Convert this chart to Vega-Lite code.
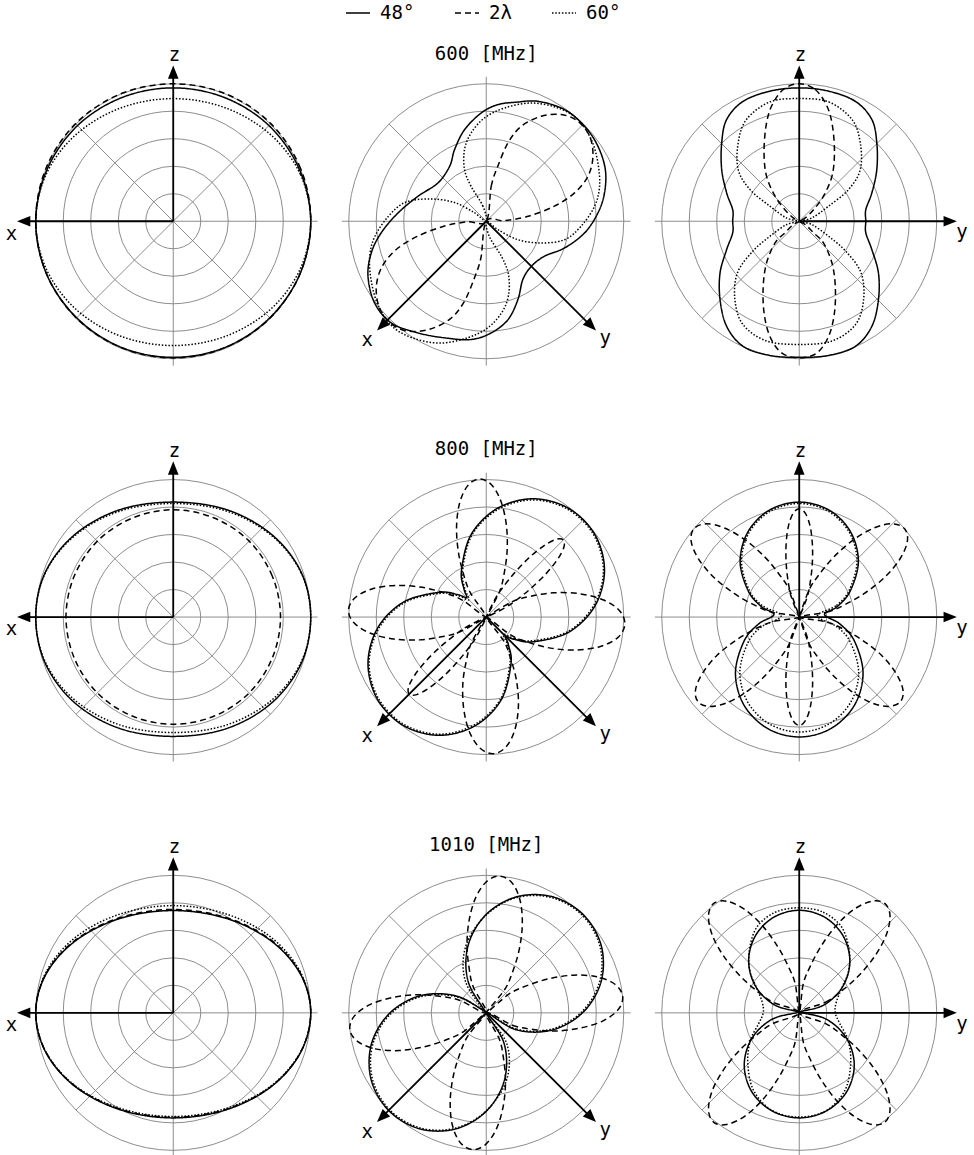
{
"$schema": "https://vega.github.io/schema/vega-lite/v6.json",
"padding": {"left": 5, "top": 0, "right": 5, "bottom": 5},
"bounds": "flush",
"data": {"values": [
{"p":1,"k":"ring","x":0,"y":0,"r":1},{"p":1,"k":"ring","x":0,"y":0,"r":2},{"p":1,"k":"ring","x":0,"y":0,"r":3},{"p":1,"k":"ring","x":0,"y":0,"r":4},{"p":1,"k":"ring","x":0,"y":0,"r":5},
{"p":2,"k":"ring","x":0,"y":0,"r":1},{"p":2,"k":"ring","x":0,"y":0,"r":2},{"p":2,"k":"ring","x":0,"y":0,"r":3},{"p":2,"k":"ring","x":0,"y":0,"r":4},{"p":2,"k":"ring","x":0,"y":0,"r":5},
{"p":3,"k":"ring","x":0,"y":0,"r":1},{"p":3,"k":"ring","x":0,"y":0,"r":2},{"p":3,"k":"ring","x":0,"y":0,"r":3},{"p":3,"k":"ring","x":0,"y":0,"r":4},{"p":3,"k":"ring","x":0,"y":0,"r":5},
{"p":4,"k":"ring","x":0,"y":0,"r":1},{"p":4,"k":"ring","x":0,"y":0,"r":2},{"p":4,"k":"ring","x":0,"y":0,"r":3},{"p":4,"k":"ring","x":0,"y":0,"r":4},{"p":4,"k":"ring","x":0,"y":0,"r":5},
{"p":5,"k":"ring","x":0,"y":0,"r":1},{"p":5,"k":"ring","x":0,"y":0,"r":2},{"p":5,"k":"ring","x":0,"y":0,"r":3},{"p":5,"k":"ring","x":0,"y":0,"r":4},{"p":5,"k":"ring","x":0,"y":0,"r":5},
{"p":6,"k":"ring","x":0,"y":0,"r":1},{"p":6,"k":"ring","x":0,"y":0,"r":2},{"p":6,"k":"ring","x":0,"y":0,"r":3},{"p":6,"k":"ring","x":0,"y":0,"r":4},{"p":6,"k":"ring","x":0,"y":0,"r":5},
{"p":7,"k":"ring","x":0,"y":0,"r":1},{"p":7,"k":"ring","x":0,"y":0,"r":2},{"p":7,"k":"ring","x":0,"y":0,"r":3},{"p":7,"k":"ring","x":0,"y":0,"r":4},{"p":7,"k":"ring","x":0,"y":0,"r":5},
{"p":8,"k":"ring","x":0,"y":0,"r":1},{"p":8,"k":"ring","x":0,"y":0,"r":2},{"p":8,"k":"ring","x":0,"y":0,"r":3},{"p":8,"k":"ring","x":0,"y":0,"r":4},{"p":8,"k":"ring","x":0,"y":0,"r":5},
{"p":9,"k":"ring","x":0,"y":0,"r":1},{"p":9,"k":"ring","x":0,"y":0,"r":2},{"p":9,"k":"ring","x":0,"y":0,"r":3},{"p":9,"k":"ring","x":0,"y":0,"r":4},{"p":9,"k":"ring","x":0,"y":0,"r":5},
{"p":1,"k":"grid","x":-5.25,"y":0,"x2":5.25,"y2":0},{"p":1,"k":"grid","x":0,"y":-5.25,"x2":0,"y2":5.25},{"p":1,"k":"grid","x":-3.536,"y":-3.536,"x2":3.536,"y2":3.536},{"p":1,"k":"grid","x":-3.536,"y":3.536,"x2":3.536,"y2":-3.536},
{"p":2,"k":"grid","x":-5.25,"y":0,"x2":5.25,"y2":0},{"p":2,"k":"grid","x":0,"y":-5.25,"x2":0,"y2":5.25},{"p":2,"k":"grid","x":-3.536,"y":-3.536,"x2":3.536,"y2":3.536},{"p":2,"k":"grid","x":-3.536,"y":3.536,"x2":3.536,"y2":-3.536},
{"p":3,"k":"grid","x":-5.25,"y":0,"x2":5.25,"y2":0},{"p":3,"k":"grid","x":0,"y":-5.25,"x2":0,"y2":5.25},{"p":3,"k":"grid","x":-3.536,"y":-3.536,"x2":3.536,"y2":3.536},{"p":3,"k":"grid","x":-3.536,"y":3.536,"x2":3.536,"y2":-3.536},
{"p":4,"k":"grid","x":-5.25,"y":0,"x2":5.25,"y2":0},{"p":4,"k":"grid","x":0,"y":-5.25,"x2":0,"y2":5.25},{"p":4,"k":"grid","x":-3.536,"y":-3.536,"x2":3.536,"y2":3.536},{"p":4,"k":"grid","x":-3.536,"y":3.536,"x2":3.536,"y2":-3.536},
{"p":5,"k":"grid","x":-5.25,"y":0,"x2":5.25,"y2":0},{"p":5,"k":"grid","x":0,"y":-5.25,"x2":0,"y2":5.25},{"p":5,"k":"grid","x":-3.536,"y":-3.536,"x2":3.536,"y2":3.536},{"p":5,"k":"grid","x":-3.536,"y":3.536,"x2":3.536,"y2":-3.536},
{"p":6,"k":"grid","x":-5.25,"y":0,"x2":5.25,"y2":0},{"p":6,"k":"grid","x":0,"y":-5.25,"x2":0,"y2":5.25},{"p":6,"k":"grid","x":-3.536,"y":-3.536,"x2":3.536,"y2":3.536},{"p":6,"k":"grid","x":-3.536,"y":3.536,"x2":3.536,"y2":-3.536},
{"p":7,"k":"grid","x":-5.25,"y":0,"x2":5.25,"y2":0},{"p":7,"k":"grid","x":0,"y":-5.25,"x2":0,"y2":5.25},{"p":7,"k":"grid","x":-3.536,"y":-3.536,"x2":3.536,"y2":3.536},{"p":7,"k":"grid","x":-3.536,"y":3.536,"x2":3.536,"y2":-3.536},
{"p":8,"k":"grid","x":-5.25,"y":0,"x2":5.25,"y2":0},{"p":8,"k":"grid","x":0,"y":-5.25,"x2":0,"y2":5.25},{"p":8,"k":"grid","x":-3.536,"y":-3.536,"x2":3.536,"y2":3.536},{"p":8,"k":"grid","x":-3.536,"y":3.536,"x2":3.536,"y2":-3.536},
{"p":9,"k":"grid","x":-5.25,"y":0,"x2":5.25,"y2":0},{"p":9,"k":"grid","x":0,"y":-5.25,"x2":0,"y2":5.25},{"p":9,"k":"grid","x":-3.536,"y":-3.536,"x2":3.536,"y2":3.536},{"p":9,"k":"grid","x":-3.536,"y":3.536,"x2":3.536,"y2":-3.536},
{"p":1,"k":"axis","x":0,"y":0,"x2":-5.35,"y2":0},{"p":1,"k":"axis","x":0,"y":0,"x2":0,"y2":5.35},
{"p":4,"k":"axis","x":0,"y":0,"x2":-5.35,"y2":0},{"p":4,"k":"axis","x":0,"y":0,"x2":0,"y2":5.35},
{"p":7,"k":"axis","x":0,"y":0,"x2":-5.35,"y2":0},{"p":7,"k":"axis","x":0,"y":0,"x2":0,"y2":5.35},
{"p":2,"k":"axis","x":0,"y":0,"x2":-3.75,"y2":-3.75},{"p":2,"k":"axis","x":0,"y":0,"x2":3.75,"y2":-3.75},
{"p":5,"k":"axis","x":0,"y":0,"x2":-3.75,"y2":-3.75},{"p":5,"k":"axis","x":0,"y":0,"x2":3.75,"y2":-3.75},
{"p":8,"k":"axis","x":0,"y":0,"x2":-3.75,"y2":-3.75},{"p":8,"k":"axis","x":0,"y":0,"x2":3.75,"y2":-3.75},
{"p":3,"k":"axis","x":0,"y":0,"x2":0,"y2":5.35},{"p":3,"k":"axis","x":0,"y":0,"x2":5.4,"y2":0},
{"p":6,"k":"axis","x":0,"y":0,"x2":0,"y2":5.35},{"p":6,"k":"axis","x":0,"y":0,"x2":5.4,"y2":0},
{"p":9,"k":"axis","x":0,"y":0,"x2":0,"y2":5.35},{"p":9,"k":"axis","x":0,"y":0,"x2":5.4,"y2":0},
{"p":1,"k":"arrow","x":-5.44,"y":0,"dir":180},{"p":1,"k":"arrow","x":0,"y":5.42,"dir":90},
{"p":4,"k":"arrow","x":-5.44,"y":0,"dir":180},{"p":4,"k":"arrow","x":0,"y":5.42,"dir":90},
{"p":7,"k":"arrow","x":-5.44,"y":0,"dir":180},{"p":7,"k":"arrow","x":0,"y":5.42,"dir":90},
{"p":2,"k":"arrow","x":-3.8,"y":-3.8,"dir":225},{"p":2,"k":"arrow","x":3.82,"y":-3.8,"dir":315},
{"p":5,"k":"arrow","x":-3.8,"y":-3.8,"dir":225},{"p":5,"k":"arrow","x":3.82,"y":-3.8,"dir":315},
{"p":8,"k":"arrow","x":-3.8,"y":-3.8,"dir":225},{"p":8,"k":"arrow","x":3.82,"y":-3.8,"dir":315},
{"p":3,"k":"arrow","x":0,"y":5.42,"dir":90},{"p":3,"k":"arrow","x":5.49,"y":0,"dir":0},
{"p":6,"k":"arrow","x":0,"y":5.42,"dir":90},{"p":6,"k":"arrow","x":5.49,"y":0,"dir":0},
{"p":9,"k":"arrow","x":0,"y":5.42,"dir":90},{"p":9,"k":"arrow","x":5.49,"y":0,"dir":0},
{"p":1,"k":"label","x":-5.88,"y":-0.45,"t":"x"},{"p":1,"k":"label","x":0.04,"y":6.04,"t":"z"},
{"p":4,"k":"label","x":-5.88,"y":-0.45,"t":"x"},{"p":4,"k":"label","x":0.04,"y":6.04,"t":"z"},
{"p":7,"k":"label","x":-5.88,"y":-0.45,"t":"x"},{"p":7,"k":"label","x":0.04,"y":6.04,"t":"z"},
{"p":2,"k":"label","x":-4.33,"y":-4.33,"t":"x"},{"p":2,"k":"label","x":4.33,"y":-4.25,"t":"y"},{"p":2,"k":"label","x":0,"y":6.1,"t":"600 [MHz]"},
{"p":5,"k":"label","x":-4.33,"y":-4.33,"t":"x"},{"p":5,"k":"label","x":4.33,"y":-4.25,"t":"y"},{"p":5,"k":"label","x":0,"y":6.1,"t":"800 [MHz]"},
{"p":8,"k":"label","x":-4.33,"y":-4.33,"t":"x"},{"p":8,"k":"label","x":4.33,"y":-4.25,"t":"y"},{"p":8,"k":"label","x":0,"y":6.1,"t":"1010 [MHz]"},
{"p":3,"k":"label","x":0.04,"y":6.04,"t":"z"},{"p":3,"k":"label","x":5.92,"y":-0.4,"t":"y"},
{"p":6,"k":"label","x":0.04,"y":6.04,"t":"z"},{"p":6,"k":"label","x":5.92,"y":-0.4,"t":"y"},
{"p":9,"k":"label","x":0.04,"y":6.04,"t":"z"},{"p":9,"k":"label","x":5.92,"y":-0.4,"t":"y"},

{"p":1,"s":"48°","x":5,"y":0},{"p":1,"s":"48°","x":4.58,"y":1.9},{"p":1,"s":"48°","x":3.48,"y":3.48},{"p":1,"s":"48°","x":1.86,"y":4.5},{"p":1,"s":"48°","x":0,"y":4.85},{"p":1,"s":"48°","x":-1.86,"y":4.5},{"p":1,"s":"48°","x":-3.48,"y":3.48},{"p":1,"s":"48°","x":-4.58,"y":1.9},{"p":1,"s":"48°","x":-5,"y":0},{"p":1,"s":"48°","x":-4.61,"y":-1.91},{"p":1,"s":"48°","x":-3.51,"y":-3.51},{"p":1,"s":"48°","x":-1.9,"y":-4.58},{"p":1,"s":"48°","x":0,"y":-4.95},{"p":1,"s":"48°","x":1.9,"y":-4.58},{"p":1,"s":"48°","x":3.51,"y":-3.51},{"p":1,"s":"48°","x":4.61,"y":-1.91},
{"p":1,"s":"2λ","x":5,"y":0},{"p":1,"s":"2λ","x":4.63,"y":1.92},{"p":1,"s":"2λ","x":3.55,"y":3.55},{"p":1,"s":"2λ","x":1.92,"y":4.63},{"p":1,"s":"2λ","x":0,"y":5},{"p":1,"s":"2λ","x":-1.92,"y":4.63},{"p":1,"s":"2λ","x":-3.55,"y":3.55},{"p":1,"s":"2λ","x":-4.63,"y":1.92},{"p":1,"s":"2λ","x":-5,"y":0},{"p":1,"s":"2λ","x":-4.61,"y":-1.91},{"p":1,"s":"2λ","x":-3.52,"y":-3.52},{"p":1,"s":"2λ","x":-1.9,"y":-4.59},{"p":1,"s":"2λ","x":0,"y":-4.97},{"p":1,"s":"2λ","x":1.9,"y":-4.59},{"p":1,"s":"2λ","x":3.52,"y":-3.52},{"p":1,"s":"2λ","x":4.61,"y":-1.91},
{"p":1,"s":"60°","x":5,"y":0},{"p":1,"s":"60°","x":4.62,"y":1.71},{"p":1,"s":"60°","x":3.54,"y":3.15},{"p":1,"s":"60°","x":1.91,"y":4.12},{"p":1,"s":"60°","x":0,"y":4.46},{"p":1,"s":"60°","x":-1.91,"y":4.12},{"p":1,"s":"60°","x":-3.54,"y":3.15},{"p":1,"s":"60°","x":-4.62,"y":1.71},{"p":1,"s":"60°","x":-5,"y":0},{"p":1,"s":"60°","x":-4.62,"y":-1.73},{"p":1,"s":"60°","x":-3.54,"y":-3.2},{"p":1,"s":"60°","x":-1.91,"y":-4.18},{"p":1,"s":"60°","x":0,"y":-4.52},{"p":1,"s":"60°","x":1.91,"y":-4.18},{"p":1,"s":"60°","x":3.54,"y":-3.2},{"p":1,"s":"60°","x":4.62,"y":-1.73},

{"p":2,"s":"48°","x":1.09,"y":4.33},{"p":2,"s":"48°","x":1.88,"y":4.36},{"p":2,"s":"48°","x":2.85,"y":4.06},{"p":2,"s":"48°","x":3.58,"y":3.45},{"p":2,"s":"48°","x":4.06,"y":2.73},{"p":2,"s":"48°","x":4.33,"y":1.88},{"p":2,"s":"48°","x":4.3,"y":1.03},{"p":2,"s":"48°","x":4.06,"y":0.3},{"p":2,"s":"48°","x":3.58,"y":-0.42},{"p":2,"s":"48°","x":2.85,"y":-0.97},{"p":2,"s":"48°","x":2.12,"y":-1.27},{"p":2,"s":"48°","x":1.64,"y":-1.64},{"p":2,"s":"48°","x":1.33,"y":-2.12},{"p":2,"s":"48°","x":1.15,"y":-2.85},{"p":2,"s":"48°","x":0.79,"y":-3.58},{"p":2,"s":"48°","x":0.18,"y":-4.06},{"p":2,"s":"48°","x":-0.55,"y":-4.3},{"p":2,"s":"48°","x":-1.52,"y":-4.24},{"p":2,"s":"48°","x":-2.48,"y":-4.06},{"p":2,"s":"48°","x":-3.45,"y":-3.7},{"p":2,"s":"48°","x":-4.06,"y":-2.97},{"p":2,"s":"48°","x":-4.3,"y":-2},{"p":2,"s":"48°","x":-4.18,"y":-1.15},{"p":2,"s":"48°","x":-3.82,"y":-0.42},{"p":2,"s":"48°","x":-3.21,"y":0.3},{"p":2,"s":"48°","x":-2.48,"y":0.91},{"p":2,"s":"48°","x":-1.76,"y":1.39},{"p":2,"s":"48°","x":-1.33,"y":2},{"p":2,"s":"48°","x":-1.15,"y":2.61},{"p":2,"s":"48°","x":-0.79,"y":3.33},{"p":2,"s":"48°","x":-0.18,"y":3.94},{"p":2,"s":"48°","x":0.42,"y":4.24},
{"p":2,"s":"2λ","x":0,"y":0},{"p":2,"s":"2λ","x":0.18,"y":1.27},{"p":2,"s":"2λ","x":0.42,"y":2},{"p":2,"s":"2λ","x":0.79,"y":2.85},{"p":2,"s":"2λ","x":1.27,"y":3.45},{"p":2,"s":"2λ","x":2,"y":3.82},{"p":2,"s":"2λ","x":2.73,"y":3.88},{"p":2,"s":"2λ","x":3.33,"y":3.64},{"p":2,"s":"2λ","x":3.76,"y":3.09},{"p":2,"s":"2λ","x":3.88,"y":2.36},{"p":2,"s":"2λ","x":3.7,"y":1.64},{"p":2,"s":"2λ","x":3.21,"y":1.03},{"p":2,"s":"2λ","x":2.48,"y":0.55},{"p":2,"s":"2λ","x":1.52,"y":0.18},{"p":2,"s":"2λ","x":0.67,"y":0.02},{"p":2,"s":"2λ","x":0,"y":0},{"p":2,"s":"2λ","x":-0.19,"y":-1.31},{"p":2,"s":"2λ","x":-0.43,"y":-2.06},{"p":2,"s":"2λ","x":-0.81,"y":-2.94},{"p":2,"s":"2λ","x":-1.31,"y":-3.55},{"p":2,"s":"2λ","x":-2.06,"y":-3.93},{"p":2,"s":"2λ","x":-2.81,"y":-4},{"p":2,"s":"2λ","x":-3.43,"y":-3.75},{"p":2,"s":"2λ","x":-3.87,"y":-3.18},{"p":2,"s":"2λ","x":-4,"y":-2.43},{"p":2,"s":"2λ","x":-3.81,"y":-1.69},{"p":2,"s":"2λ","x":-3.31,"y":-1.06},{"p":2,"s":"2λ","x":-2.55,"y":-0.57},{"p":2,"s":"2λ","x":-1.57,"y":-0.19},{"p":2,"s":"2λ","x":-0.69,"y":-0.02},
{"p":2,"s":"60°","x":0,"y":0},{"p":2,"s":"60°","x":-0.12,"y":0.55},{"p":2,"s":"60°","x":-0.55,"y":1.27},{"p":2,"s":"60°","x":-0.79,"y":1.88},{"p":2,"s":"60°","x":-0.79,"y":2.61},{"p":2,"s":"60°","x":-0.55,"y":3.21},{"p":2,"s":"60°","x":-0.06,"y":3.76},{"p":2,"s":"60°","x":0.67,"y":4.12},{"p":2,"s":"60°","x":1.64,"y":4.3},{"p":2,"s":"60°","x":2.61,"y":4.12},{"p":2,"s":"60°","x":3.33,"y":3.7},{"p":2,"s":"60°","x":3.82,"y":2.97},{"p":2,"s":"60°","x":4.06,"y":2.12},{"p":2,"s":"60°","x":4.12,"y":1.27},{"p":2,"s":"60°","x":3.94,"y":0.55},{"p":2,"s":"60°","x":3.45,"y":-0.18},{"p":2,"s":"60°","x":2.85,"y":-0.67},{"p":2,"s":"60°","x":2,"y":-0.79},{"p":2,"s":"60°","x":1.15,"y":-0.67},{"p":2,"s":"60°","x":0.42,"y":-0.3},{"p":2,"s":"60°","x":0,"y":0},{"p":2,"s":"60°","x":0.12,"y":-0.57},{"p":2,"s":"60°","x":0.57,"y":-1.31},{"p":2,"s":"60°","x":0.81,"y":-1.94},{"p":2,"s":"60°","x":0.81,"y":-2.69},{"p":2,"s":"60°","x":0.57,"y":-3.31},{"p":2,"s":"60°","x":0.06,"y":-3.87},{"p":2,"s":"60°","x":-0.69,"y":-4.24},{"p":2,"s":"60°","x":-1.69,"y":-4.43},{"p":2,"s":"60°","x":-2.69,"y":-4.24},{"p":2,"s":"60°","x":-3.43,"y":-3.81},{"p":2,"s":"60°","x":-3.93,"y":-3.06},{"p":2,"s":"60°","x":-4.18,"y":-2.18},{"p":2,"s":"60°","x":-4.24,"y":-1.31},{"p":2,"s":"60°","x":-4.06,"y":-0.57},{"p":2,"s":"60°","x":-3.55,"y":0.19},{"p":2,"s":"60°","x":-2.94,"y":0.69},{"p":2,"s":"60°","x":-2.06,"y":0.81},{"p":2,"s":"60°","x":-1.18,"y":0.69},{"p":2,"s":"60°","x":-0.43,"y":0.31},

{"p":3,"s":"48°","x":0,"y":4.85},{"p":3,"s":"48°","x":1.07,"y":4.73},{"p":3,"s":"48°","x":2.04,"y":4.36},{"p":3,"s":"48°","x":2.64,"y":3.7},{"p":3,"s":"48°","x":2.82,"y":2.85},{"p":3,"s":"48°","x":2.82,"y":1.88},{"p":3,"s":"48°","x":2.64,"y":1.03},{"p":3,"s":"48°","x":2.42,"y":0.42},{"p":3,"s":"48°","x":2.42,"y":0},{"p":3,"s":"48°","x":2.42,"y":-0.42},{"p":3,"s":"48°","x":2.64,"y":-1.03},{"p":3,"s":"48°","x":2.88,"y":-1.88},{"p":3,"s":"48°","x":2.88,"y":-2.85},{"p":3,"s":"48°","x":2.64,"y":-3.82},{"p":3,"s":"48°","x":2.04,"y":-4.55},{"p":3,"s":"48°","x":1.07,"y":-4.88},{"p":3,"s":"48°","x":0,"y":-4.95},{"p":3,"s":"48°","x":-1.07,"y":-4.88},{"p":3,"s":"48°","x":-2.04,"y":-4.55},{"p":3,"s":"48°","x":-2.64,"y":-3.82},{"p":3,"s":"48°","x":-2.88,"y":-2.85},{"p":3,"s":"48°","x":-2.88,"y":-1.88},{"p":3,"s":"48°","x":-2.64,"y":-1.03},{"p":3,"s":"48°","x":-2.42,"y":-0.42},{"p":3,"s":"48°","x":-2.42,"y":0},{"p":3,"s":"48°","x":-2.42,"y":0.42},{"p":3,"s":"48°","x":-2.64,"y":1.03},{"p":3,"s":"48°","x":-2.82,"y":1.88},{"p":3,"s":"48°","x":-2.82,"y":2.85},{"p":3,"s":"48°","x":-2.64,"y":3.7},{"p":3,"s":"48°","x":-2.04,"y":4.36},{"p":3,"s":"48°","x":-1.07,"y":4.73},
{"p":3,"s":"2λ","x":0,"y":5},{"p":3,"s":"2λ","x":0.58,"y":4.79},{"p":3,"s":"2λ","x":1.01,"y":4.18},{"p":3,"s":"2λ","x":1.21,"y":3.45},{"p":3,"s":"2λ","x":1.28,"y":2.48},{"p":3,"s":"2λ","x":1.19,"y":1.64},{"p":3,"s":"2λ","x":0.88,"y":0.91},{"p":3,"s":"2λ","x":0.52,"y":0.42},{"p":3,"s":"2λ","x":0.22,"y":0.12},{"p":3,"s":"2λ","x":0,"y":0},{"p":3,"s":"2λ","x":0.22,"y":-0.12},{"p":3,"s":"2λ","x":0.52,"y":-0.42},{"p":3,"s":"2λ","x":0.88,"y":-0.79},{"p":3,"s":"2λ","x":1.19,"y":-1.52},{"p":3,"s":"2λ","x":1.31,"y":-2.36},{"p":3,"s":"2λ","x":1.28,"y":-3.33},{"p":3,"s":"2λ","x":1.07,"y":-4.18},{"p":3,"s":"2λ","x":0.64,"y":-4.79},{"p":3,"s":"2λ","x":0,"y":-4.97},{"p":3,"s":"2λ","x":-0.64,"y":-4.79},{"p":3,"s":"2λ","x":-1.07,"y":-4.18},{"p":3,"s":"2λ","x":-1.28,"y":-3.33},{"p":3,"s":"2λ","x":-1.31,"y":-2.36},{"p":3,"s":"2λ","x":-1.19,"y":-1.52},{"p":3,"s":"2λ","x":-0.88,"y":-0.79},{"p":3,"s":"2λ","x":-0.52,"y":-0.42},{"p":3,"s":"2λ","x":-0.22,"y":-0.12},{"p":3,"s":"2λ","x":0,"y":0},{"p":3,"s":"2λ","x":-0.22,"y":0.12},{"p":3,"s":"2λ","x":-0.52,"y":0.42},{"p":3,"s":"2λ","x":-0.88,"y":0.91},{"p":3,"s":"2λ","x":-1.19,"y":1.64},{"p":3,"s":"2λ","x":-1.28,"y":2.48},{"p":3,"s":"2λ","x":-1.21,"y":3.45},{"p":3,"s":"2λ","x":-1.01,"y":4.18},{"p":3,"s":"2λ","x":-0.58,"y":4.79},
{"p":3,"s":"60°","x":0,"y":4.46},{"p":3,"s":"60°","x":1.07,"y":4.34},{"p":3,"s":"60°","x":1.92,"y":3.7},{"p":3,"s":"60°","x":2.22,"y":2.85},{"p":3,"s":"60°","x":2.22,"y":1.88},{"p":3,"s":"60°","x":1.79,"y":1.15},{"p":3,"s":"60°","x":1.07,"y":0.55},{"p":3,"s":"60°","x":0.46,"y":0.12},{"p":3,"s":"60°","x":0,"y":0},{"p":3,"s":"60°","x":0.46,"y":-0.12},{"p":3,"s":"60°","x":1.07,"y":-0.55},{"p":3,"s":"60°","x":1.7,"y":-1.1},{"p":3,"s":"60°","x":2.25,"y":-1.88},{"p":3,"s":"60°","x":2.34,"y":-2.85},{"p":3,"s":"60°","x":2.05,"y":-3.75},{"p":3,"s":"60°","x":1.2,"y":-4.35},{"p":3,"s":"60°","x":0,"y":-4.48},{"p":3,"s":"60°","x":-1.2,"y":-4.35},{"p":3,"s":"60°","x":-2.05,"y":-3.75},{"p":3,"s":"60°","x":-2.34,"y":-2.85},{"p":3,"s":"60°","x":-2.25,"y":-1.88},{"p":3,"s":"60°","x":-1.7,"y":-1.1},{"p":3,"s":"60°","x":-1.07,"y":-0.55},{"p":3,"s":"60°","x":-0.46,"y":-0.12},{"p":3,"s":"60°","x":0,"y":0},{"p":3,"s":"60°","x":-0.46,"y":0.12},{"p":3,"s":"60°","x":-1.07,"y":0.55},{"p":3,"s":"60°","x":-1.79,"y":1.15},{"p":3,"s":"60°","x":-2.22,"y":1.88},{"p":3,"s":"60°","x":-2.22,"y":2.85},{"p":3,"s":"60°","x":-1.92,"y":3.7},{"p":3,"s":"60°","x":-1.07,"y":4.34},

{"p":4,"s":"48°","x":5,"y":0},{"p":4,"s":"48°","x":4.65,"y":1.63},{"p":4,"s":"48°","x":3.58,"y":3},{"p":4,"s":"48°","x":1.95,"y":3.9},{"p":4,"s":"48°","x":0,"y":4.18},{"p":4,"s":"48°","x":-1.95,"y":3.9},{"p":4,"s":"48°","x":-3.58,"y":3},{"p":4,"s":"48°","x":-4.65,"y":1.63},{"p":4,"s":"48°","x":-5,"y":0},{"p":4,"s":"48°","x":-4.65,"y":-1.69},{"p":4,"s":"48°","x":-3.58,"y":-3.12},{"p":4,"s":"48°","x":-1.95,"y":-4.05},{"p":4,"s":"48°","x":0,"y":-4.34},{"p":4,"s":"48°","x":1.95,"y":-4.05},{"p":4,"s":"48°","x":3.58,"y":-3.12},{"p":4,"s":"48°","x":4.65,"y":-1.69},
{"p":4,"s":"2λ","x":3.9,"y":0},{"p":4,"s":"2λ","x":3.6,"y":1.49},{"p":4,"s":"2λ","x":2.76,"y":2.76},{"p":4,"s":"2λ","x":1.49,"y":3.6},{"p":4,"s":"2λ","x":0,"y":3.9},{"p":4,"s":"2λ","x":-1.49,"y":3.6},{"p":4,"s":"2λ","x":-2.76,"y":2.76},{"p":4,"s":"2λ","x":-3.6,"y":1.49},{"p":4,"s":"2λ","x":-3.9,"y":0},{"p":4,"s":"2λ","x":-3.6,"y":-1.49},{"p":4,"s":"2λ","x":-2.76,"y":-2.76},{"p":4,"s":"2λ","x":-1.49,"y":-3.6},{"p":4,"s":"2λ","x":0,"y":-3.9},{"p":4,"s":"2λ","x":1.49,"y":-3.6},{"p":4,"s":"2λ","x":2.76,"y":-2.76},{"p":4,"s":"2λ","x":3.6,"y":-1.49},
{"p":4,"s":"60°","x":5,"y":0},{"p":4,"s":"60°","x":4.65,"y":1.61},{"p":4,"s":"60°","x":3.58,"y":2.96},{"p":4,"s":"60°","x":1.95,"y":3.85},{"p":4,"s":"60°","x":0,"y":4.13},{"p":4,"s":"60°","x":-1.95,"y":3.85},{"p":4,"s":"60°","x":-3.58,"y":2.96},{"p":4,"s":"60°","x":-4.65,"y":1.61},{"p":4,"s":"60°","x":-5,"y":0},{"p":4,"s":"60°","x":-4.65,"y":-1.64},{"p":4,"s":"60°","x":-3.58,"y":-3.02},{"p":4,"s":"60°","x":-1.95,"y":-3.92},{"p":4,"s":"60°","x":0,"y":-4.2},{"p":4,"s":"60°","x":1.95,"y":-3.92},{"p":4,"s":"60°","x":3.58,"y":-3.02},{"p":4,"s":"60°","x":4.65,"y":-1.64},

{"p":5,"s":"48°","x":0.71,"y":-0.71},{"p":5,"s":"48°","x":1.02,"y":-0.81},{"p":5,"s":"48°","x":1.7,"y":-0.9},{"p":5,"s":"48°","x":3,"y":-0.55},{"p":5,"s":"48°","x":3.95,"y":0.4},{"p":5,"s":"48°","x":4.3,"y":1.7},{"p":5,"s":"48°","x":3.95,"y":3},{"p":5,"s":"48°","x":3,"y":3.95},{"p":5,"s":"48°","x":1.7,"y":4.3},{"p":5,"s":"48°","x":0.4,"y":3.95},{"p":5,"s":"48°","x":-0.55,"y":3},{"p":5,"s":"48°","x":-0.9,"y":1.7},{"p":5,"s":"48°","x":-0.81,"y":1.02},{"p":5,"s":"48°","x":-0.71,"y":0.71},{"p":5,"s":"48°","x":-1.02,"y":0.81},{"p":5,"s":"48°","x":-1.7,"y":0.9},{"p":5,"s":"48°","x":-3,"y":0.55},{"p":5,"s":"48°","x":-3.95,"y":-0.4},{"p":5,"s":"48°","x":-4.3,"y":-1.7},{"p":5,"s":"48°","x":-3.95,"y":-3},{"p":5,"s":"48°","x":-3,"y":-3.95},{"p":5,"s":"48°","x":-1.7,"y":-4.3},{"p":5,"s":"48°","x":-0.4,"y":-3.95},{"p":5,"s":"48°","x":0.55,"y":-3},{"p":5,"s":"48°","x":0.9,"y":-1.7},{"p":5,"s":"48°","x":0.81,"y":-1.02},
{"p":5,"s":"2λ","x":0,"y":0},{"p":5,"s":"2λ","x":0.87,"y":-0.64},{"p":5,"s":"2λ","x":1.5,"y":-0.91},{"p":5,"s":"2λ","x":2.34,"y":-1.13},{"p":5,"s":"2λ","x":3.27,"y":-1.2},{"p":5,"s":"2λ","x":4.15,"y":-1.07},{"p":5,"s":"2λ","x":4.79,"y":-0.74},{"p":5,"s":"2λ","x":5.04,"y":-0.26},{"p":5,"s":"2λ","x":4.84,"y":0.24},{"p":5,"s":"2λ","x":4.24,"y":0.63},{"p":5,"s":"2λ","x":3.38,"y":0.85},{"p":5,"s":"2λ","x":2.44,"y":0.88},{"p":5,"s":"2λ","x":1.59,"y":0.75},{"p":5,"s":"2λ","x":0.93,"y":0.55},
{"p":5,"s":"2λ","x":0,"y":0},{"p":5,"s":"2λ","x":0.67,"y":0.33},{"p":5,"s":"2λ","x":1.1,"y":0.62},{"p":5,"s":"2λ","x":1.62,"y":1.04},{"p":5,"s":"2λ","x":2.15,"y":1.55},{"p":5,"s":"2λ","x":2.58,"y":2.08},{"p":5,"s":"2λ","x":2.82,"y":2.53},{"p":5,"s":"2λ","x":2.8,"y":2.8},{"p":5,"s":"2λ","x":2.53,"y":2.82},{"p":5,"s":"2λ","x":2.08,"y":2.58},{"p":5,"s":"2λ","x":1.55,"y":2.15},{"p":5,"s":"2λ","x":1.04,"y":1.62},{"p":5,"s":"2λ","x":0.62,"y":1.1},{"p":5,"s":"2λ","x":0.33,"y":0.67},
{"p":5,"s":"2λ","x":0,"y":0},{"p":5,"s":"2λ","x":0.48,"y":0.92},{"p":5,"s":"2λ","x":0.65,"y":1.58},{"p":5,"s":"2λ","x":0.76,"y":2.43},{"p":5,"s":"2λ","x":0.73,"y":3.36},{"p":5,"s":"2λ","x":0.53,"y":4.22},{"p":5,"s":"2λ","x":0.18,"y":4.82},{"p":5,"s":"2λ","x":-0.26,"y":5.02},{"p":5,"s":"2λ","x":-0.68,"y":4.77},{"p":5,"s":"2λ","x":-0.97,"y":4.14},{"p":5,"s":"2λ","x":-1.08,"y":3.27},{"p":5,"s":"2λ","x":-1.01,"y":2.34},{"p":5,"s":"2λ","x":-0.81,"y":1.5},{"p":5,"s":"2λ","x":-0.57,"y":0.87},
{"p":5,"s":"2λ","x":0,"y":0},{"p":5,"s":"2λ","x":-0.86,"y":0.61},{"p":5,"s":"2λ","x":-1.5,"y":0.87},{"p":5,"s":"2λ","x":-2.33,"y":1.08},{"p":5,"s":"2λ","x":-3.26,"y":1.15},{"p":5,"s":"2λ","x":-4.13,"y":1.03},{"p":5,"s":"2λ","x":-4.76,"y":0.71},{"p":5,"s":"2λ","x":-5.01,"y":0.26},{"p":5,"s":"2λ","x":-4.81,"y":-0.21},{"p":5,"s":"2λ","x":-4.21,"y":-0.59},{"p":5,"s":"2λ","x":-3.36,"y":-0.8},{"p":5,"s":"2λ","x":-2.43,"y":-0.83},{"p":5,"s":"2λ","x":-1.58,"y":-0.71},{"p":5,"s":"2λ","x":-0.92,"y":-0.52},
{"p":5,"s":"2λ","x":0,"y":0},{"p":5,"s":"2λ","x":-0.67,"y":-0.33},{"p":5,"s":"2λ","x":-1.1,"y":-0.62},{"p":5,"s":"2λ","x":-1.62,"y":-1.04},{"p":5,"s":"2λ","x":-2.15,"y":-1.55},{"p":5,"s":"2λ","x":-2.58,"y":-2.08},{"p":5,"s":"2λ","x":-2.82,"y":-2.53},{"p":5,"s":"2λ","x":-2.8,"y":-2.8},{"p":5,"s":"2λ","x":-2.53,"y":-2.82},{"p":5,"s":"2λ","x":-2.08,"y":-2.58},{"p":5,"s":"2λ","x":-1.55,"y":-2.15},{"p":5,"s":"2λ","x":-1.04,"y":-1.62},{"p":5,"s":"2λ","x":-0.62,"y":-1.1},{"p":5,"s":"2λ","x":-0.33,"y":-0.67},
{"p":5,"s":"2λ","x":0,"y":0},{"p":5,"s":"2λ","x":-0.53,"y":-0.92},{"p":5,"s":"2λ","x":-0.72,"y":-1.57},{"p":5,"s":"2λ","x":-0.85,"y":-2.41},{"p":5,"s":"2λ","x":-0.82,"y":-3.33},{"p":5,"s":"2λ","x":-0.61,"y":-4.18},{"p":5,"s":"2λ","x":-0.22,"y":-4.77},{"p":5,"s":"2λ","x":0.26,"y":-4.97},{"p":5,"s":"2λ","x":0.72,"y":-4.72},{"p":5,"s":"2λ","x":1.04,"y":-4.1},{"p":5,"s":"2λ","x":1.17,"y":-3.23},{"p":5,"s":"2λ","x":1.1,"y":-2.31},{"p":5,"s":"2λ","x":0.88,"y":-1.49},{"p":5,"s":"2λ","x":0.63,"y":-0.86},
{"p":5,"s":"60°","x":0.63,"y":-0.63},{"p":5,"s":"60°","x":1.03,"y":-0.78},{"p":5,"s":"60°","x":1.7,"y":-0.86},{"p":5,"s":"60°","x":2.98,"y":-0.52},{"p":5,"s":"60°","x":3.91,"y":0.42},{"p":5,"s":"60°","x":4.26,"y":1.7},{"p":5,"s":"60°","x":3.91,"y":2.98},{"p":5,"s":"60°","x":2.98,"y":3.91},{"p":5,"s":"60°","x":1.7,"y":4.26},{"p":5,"s":"60°","x":0.42,"y":3.91},{"p":5,"s":"60°","x":-0.52,"y":2.98},{"p":5,"s":"60°","x":-0.86,"y":1.7},{"p":5,"s":"60°","x":-0.78,"y":1.03},{"p":5,"s":"60°","x":-0.63,"y":0.63},{"p":5,"s":"60°","x":-1.03,"y":0.78},{"p":5,"s":"60°","x":-1.7,"y":0.86},{"p":5,"s":"60°","x":-2.98,"y":0.52},{"p":5,"s":"60°","x":-3.91,"y":-0.42},{"p":5,"s":"60°","x":-4.26,"y":-1.7},{"p":5,"s":"60°","x":-3.91,"y":-2.98},{"p":5,"s":"60°","x":-2.98,"y":-3.91},{"p":5,"s":"60°","x":-1.7,"y":-4.26},{"p":5,"s":"60°","x":-0.42,"y":-3.91},{"p":5,"s":"60°","x":0.52,"y":-2.98},{"p":5,"s":"60°","x":0.86,"y":-1.7},{"p":5,"s":"60°","x":0.78,"y":-1.03},

{"p":6,"s":"48°","x":0.92,"y":0.09},{"p":6,"s":"48°","x":1.38,"y":0.38},{"p":6,"s":"48°","x":1.86,"y":0.96},{"p":6,"s":"48°","x":2.15,"y":2.03},{"p":6,"s":"48°","x":1.86,"y":3.11},{"p":6,"s":"48°","x":1.08,"y":3.89},{"p":6,"s":"48°","x":0,"y":4.18},{"p":6,"s":"48°","x":-1.08,"y":3.89},{"p":6,"s":"48°","x":-1.86,"y":3.11},{"p":6,"s":"48°","x":-2.15,"y":2.03},{"p":6,"s":"48°","x":-1.86,"y":0.96},{"p":6,"s":"48°","x":-1.38,"y":0.38},{"p":6,"s":"48°","x":-0.92,"y":0.09},{"p":6,"s":"48°","x":-1.49,"y":-0.26},{"p":6,"s":"48°","x":-2.01,"y":-0.88},{"p":6,"s":"48°","x":-2.32,"y":-2.04},{"p":6,"s":"48°","x":-2.01,"y":-3.2},{"p":6,"s":"48°","x":-1.16,"y":-4.05},{"p":6,"s":"48°","x":0,"y":-4.36},{"p":6,"s":"48°","x":1.16,"y":-4.05},{"p":6,"s":"48°","x":2.01,"y":-3.2},{"p":6,"s":"48°","x":2.32,"y":-2.04},{"p":6,"s":"48°","x":2.01,"y":-0.88},{"p":6,"s":"48°","x":1.49,"y":-0.26},
{"p":6,"s":"2λ","x":0,"y":0},{"p":6,"s":"2λ","x":1.01,"y":0.18},{"p":6,"s":"2λ","x":1.64,"y":0.44},{"p":6,"s":"2λ","x":2.37,"y":0.86},{"p":6,"s":"2λ","x":3.1,"y":1.44},{"p":6,"s":"2λ","x":3.66,"y":2.11},{"p":6,"s":"2λ","x":3.93,"y":2.75},{"p":6,"s":"2λ","x":3.83,"y":3.21},{"p":6,"s":"2λ","x":3.39,"y":3.39},{"p":6,"s":"2λ","x":2.72,"y":3.24},{"p":6,"s":"2λ","x":1.96,"y":2.8},{"p":6,"s":"2λ","x":1.26,"y":2.19},{"p":6,"s":"2λ","x":0.72,"y":1.54},{"p":6,"s":"2λ","x":0.35,"y":0.97},
{"p":6,"s":"2λ","x":0,"y":0},{"p":6,"s":"2λ","x":0.28,"y":0.7},{"p":6,"s":"2λ","x":0.39,"y":1.21},{"p":6,"s":"2λ","x":0.47,"y":1.87},{"p":6,"s":"2λ","x":0.48,"y":2.6},{"p":6,"s":"2λ","x":0.4,"y":3.28},{"p":6,"s":"2λ","x":0.23,"y":3.76},{"p":6,"s":"2λ","x":0,"y":3.94},{"p":6,"s":"2λ","x":-0.23,"y":3.76},{"p":6,"s":"2λ","x":-0.4,"y":3.28},{"p":6,"s":"2λ","x":-0.48,"y":2.6},{"p":6,"s":"2λ","x":-0.47,"y":1.87},{"p":6,"s":"2λ","x":-0.39,"y":1.21},{"p":6,"s":"2λ","x":-0.28,"y":0.7},
{"p":6,"s":"2λ","x":0,"y":0},{"p":6,"s":"2λ","x":-0.35,"y":0.97},{"p":6,"s":"2λ","x":-0.72,"y":1.54},{"p":6,"s":"2λ","x":-1.26,"y":2.19},{"p":6,"s":"2λ","x":-1.96,"y":2.8},{"p":6,"s":"2λ","x":-2.72,"y":3.24},{"p":6,"s":"2λ","x":-3.39,"y":3.39},{"p":6,"s":"2λ","x":-3.83,"y":3.21},{"p":6,"s":"2λ","x":-3.93,"y":2.75},{"p":6,"s":"2λ","x":-3.66,"y":2.11},{"p":6,"s":"2λ","x":-3.1,"y":1.44},{"p":6,"s":"2λ","x":-2.37,"y":0.86},{"p":6,"s":"2λ","x":-1.64,"y":0.44},{"p":6,"s":"2λ","x":-1.01,"y":0.18},
{"p":6,"s":"2λ","x":0,"y":0},{"p":6,"s":"2λ","x":-0.97,"y":-0.17},{"p":6,"s":"2λ","x":-1.57,"y":-0.42},{"p":6,"s":"2λ","x":-2.28,"y":-0.83},{"p":6,"s":"2λ","x":-2.98,"y":-1.38},{"p":6,"s":"2λ","x":-3.51,"y":-2.03},{"p":6,"s":"2λ","x":-3.77,"y":-2.64},{"p":6,"s":"2λ","x":-3.68,"y":-3.08},{"p":6,"s":"2λ","x":-3.25,"y":-3.25},{"p":6,"s":"2λ","x":-2.61,"y":-3.11},{"p":6,"s":"2λ","x":-1.88,"y":-2.69},{"p":6,"s":"2λ","x":-1.21,"y":-2.1},{"p":6,"s":"2λ","x":-0.69,"y":-1.48},{"p":6,"s":"2λ","x":-0.34,"y":-0.93},
{"p":6,"s":"2λ","x":0,"y":0},{"p":6,"s":"2λ","x":-0.28,"y":-0.7},{"p":6,"s":"2λ","x":-0.39,"y":-1.21},{"p":6,"s":"2λ","x":-0.47,"y":-1.87},{"p":6,"s":"2λ","x":-0.48,"y":-2.6},{"p":6,"s":"2λ","x":-0.4,"y":-3.28},{"p":6,"s":"2λ","x":-0.23,"y":-3.76},{"p":6,"s":"2λ","x":0,"y":-3.94},{"p":6,"s":"2λ","x":0.23,"y":-3.76},{"p":6,"s":"2λ","x":0.4,"y":-3.28},{"p":6,"s":"2λ","x":0.48,"y":-2.6},{"p":6,"s":"2λ","x":0.47,"y":-1.87},{"p":6,"s":"2λ","x":0.39,"y":-1.21},{"p":6,"s":"2λ","x":0.28,"y":-0.7},
{"p":6,"s":"2λ","x":0,"y":0},{"p":6,"s":"2λ","x":0.34,"y":-0.93},{"p":6,"s":"2λ","x":0.69,"y":-1.48},{"p":6,"s":"2λ","x":1.21,"y":-2.1},{"p":6,"s":"2λ","x":1.88,"y":-2.69},{"p":6,"s":"2λ","x":2.61,"y":-3.11},{"p":6,"s":"2λ","x":3.25,"y":-3.25},{"p":6,"s":"2λ","x":3.68,"y":-3.08},{"p":6,"s":"2λ","x":3.77,"y":-2.64},{"p":6,"s":"2λ","x":3.51,"y":-2.03},{"p":6,"s":"2λ","x":2.98,"y":-1.38},{"p":6,"s":"2λ","x":2.28,"y":-0.83},{"p":6,"s":"2λ","x":1.57,"y":-0.42},{"p":6,"s":"2λ","x":0.97,"y":-0.17},
{"p":6,"s":"60°","x":0.66,"y":0.04},{"p":6,"s":"60°","x":1.35,"y":0.42},{"p":6,"s":"60°","x":1.82,"y":0.98},{"p":6,"s":"60°","x":2.1,"y":2.03},{"p":6,"s":"60°","x":1.82,"y":3.08},{"p":6,"s":"60°","x":1.05,"y":3.85},{"p":6,"s":"60°","x":0,"y":4.13},{"p":6,"s":"60°","x":-1.05,"y":3.85},{"p":6,"s":"60°","x":-1.82,"y":3.08},{"p":6,"s":"60°","x":-2.1,"y":2.03},{"p":6,"s":"60°","x":-1.82,"y":0.98},{"p":6,"s":"60°","x":-1.35,"y":0.42},{"p":6,"s":"60°","x":-0.66,"y":0.04},{"p":6,"s":"60°","x":-1.39,"y":-0.37},{"p":6,"s":"60°","x":-1.87,"y":-0.94},{"p":6,"s":"60°","x":-2.16,"y":-2.02},{"p":6,"s":"60°","x":-1.87,"y":-3.1},{"p":6,"s":"60°","x":-1.08,"y":-3.89},{"p":6,"s":"60°","x":0,"y":-4.18},{"p":6,"s":"60°","x":1.08,"y":-3.89},{"p":6,"s":"60°","x":1.87,"y":-3.1},{"p":6,"s":"60°","x":2.16,"y":-2.02},{"p":6,"s":"60°","x":1.87,"y":-0.94},{"p":6,"s":"60°","x":1.39,"y":-0.37},

{"p":7,"s":"48°","x":5,"y":0},{"p":7,"s":"48°","x":4.62,"y":1.42},{"p":7,"s":"48°","x":3.54,"y":2.63},{"p":7,"s":"48°","x":1.91,"y":3.44},{"p":7,"s":"48°","x":0,"y":3.72},{"p":7,"s":"48°","x":-1.91,"y":3.44},{"p":7,"s":"48°","x":-3.54,"y":2.63},{"p":7,"s":"48°","x":-4.62,"y":1.42},{"p":7,"s":"48°","x":-5,"y":0},{"p":7,"s":"48°","x":-4.62,"y":-1.46},{"p":7,"s":"48°","x":-3.54,"y":-2.7},{"p":7,"s":"48°","x":-1.91,"y":-3.53},{"p":7,"s":"48°","x":0,"y":-3.82},{"p":7,"s":"48°","x":1.91,"y":-3.53},{"p":7,"s":"48°","x":3.54,"y":-2.7},{"p":7,"s":"48°","x":4.62,"y":-1.46},
{"p":7,"s":"2λ","x":5,"y":0},{"p":7,"s":"2λ","x":4.62,"y":1.44},{"p":7,"s":"2λ","x":3.54,"y":2.66},{"p":7,"s":"2λ","x":1.91,"y":3.47},{"p":7,"s":"2λ","x":0,"y":3.76},{"p":7,"s":"2λ","x":-1.91,"y":3.47},{"p":7,"s":"2λ","x":-3.54,"y":2.66},{"p":7,"s":"2λ","x":-4.62,"y":1.44},{"p":7,"s":"2λ","x":-5,"y":0},{"p":7,"s":"2λ","x":-4.62,"y":-1.45},{"p":7,"s":"2λ","x":-3.54,"y":-2.69},{"p":7,"s":"2λ","x":-1.91,"y":-3.51},{"p":7,"s":"2λ","x":0,"y":-3.8},{"p":7,"s":"2λ","x":1.91,"y":-3.51},{"p":7,"s":"2λ","x":3.54,"y":-2.69},{"p":7,"s":"2λ","x":4.62,"y":-1.45},
{"p":7,"s":"60°","x":5,"y":0},{"p":7,"s":"60°","x":4.62,"y":1.49},{"p":7,"s":"60°","x":3.54,"y":2.76},{"p":7,"s":"60°","x":1.91,"y":3.6},{"p":7,"s":"60°","x":0,"y":3.9},{"p":7,"s":"60°","x":-1.91,"y":3.6},{"p":7,"s":"60°","x":-3.54,"y":2.76},{"p":7,"s":"60°","x":-4.62,"y":1.49},{"p":7,"s":"60°","x":-5,"y":0},{"p":7,"s":"60°","x":-4.62,"y":-1.44},{"p":7,"s":"60°","x":-3.54,"y":-2.67},{"p":7,"s":"60°","x":-1.91,"y":-3.48},{"p":7,"s":"60°","x":0,"y":-3.77},{"p":7,"s":"60°","x":1.91,"y":-3.48},{"p":7,"s":"60°","x":3.54,"y":-2.67},{"p":7,"s":"60°","x":4.62,"y":-1.44},

{"p":8,"s":"48°","x":-0.01,"y":0.03},{"p":8,"s":"48°","x":1.11,"y":-0.62},{"p":8,"s":"48°","x":2.41,"y":-0.62},{"p":8,"s":"48°","x":3.53,"y":0.03},{"p":8,"s":"48°","x":4.18,"y":1.15},{"p":8,"s":"48°","x":4.18,"y":2.45},{"p":8,"s":"48°","x":3.53,"y":3.57},{"p":8,"s":"48°","x":2.41,"y":4.22},{"p":8,"s":"48°","x":1.11,"y":4.22},{"p":8,"s":"48°","x":-0.01,"y":3.57},{"p":8,"s":"48°","x":-0.66,"y":2.45},{"p":8,"s":"48°","x":-0.66,"y":1.15},{"p":8,"s":"48°","x":0.01,"y":-0.03},{"p":8,"s":"48°","x":0.66,"y":-1.15},{"p":8,"s":"48°","x":0.66,"y":-2.45},{"p":8,"s":"48°","x":0.01,"y":-3.57},{"p":8,"s":"48°","x":-1.11,"y":-4.22},{"p":8,"s":"48°","x":-2.41,"y":-4.22},{"p":8,"s":"48°","x":-3.53,"y":-3.57},{"p":8,"s":"48°","x":-4.18,"y":-2.45},{"p":8,"s":"48°","x":-4.18,"y":-1.15},{"p":8,"s":"48°","x":-3.53,"y":-0.03},{"p":8,"s":"48°","x":-2.41,"y":0.62},{"p":8,"s":"48°","x":-1.11,"y":0.62},
{"p":8,"s":"2λ","x":0,"y":0},{"p":8,"s":"2λ","x":0.95,"y":-0.45},{"p":8,"s":"2λ","x":1.62,"y":-0.59},{"p":8,"s":"2λ","x":2.47,"y":-0.66},{"p":8,"s":"2λ","x":3.39,"y":-0.56},{"p":8,"s":"2λ","x":4.23,"y":-0.3},{"p":8,"s":"2λ","x":4.8,"y":0.12},{"p":8,"s":"2λ","x":4.96,"y":0.61},{"p":8,"s":"2λ","x":4.68,"y":1.04},{"p":8,"s":"2λ","x":4.03,"y":1.31},{"p":8,"s":"2λ","x":3.16,"y":1.37},{"p":8,"s":"2λ","x":2.24,"y":1.23},{"p":8,"s":"2λ","x":1.43,"y":0.97},{"p":8,"s":"2λ","x":0.81,"y":0.67},
{"p":8,"s":"2λ","x":0,"y":0},{"p":8,"s":"2λ","x":0.66,"y":0.83},{"p":8,"s":"2λ","x":0.94,"y":1.44},{"p":8,"s":"2λ","x":1.19,"y":2.26},{"p":8,"s":"2λ","x":1.31,"y":3.18},{"p":8,"s":"2λ","x":1.24,"y":4.05},{"p":8,"s":"2λ","x":0.96,"y":4.7},{"p":8,"s":"2λ","x":0.52,"y":4.97},{"p":8,"s":"2λ","x":0.04,"y":4.8},{"p":8,"s":"2λ","x":-0.37,"y":4.22},{"p":8,"s":"2λ","x":-0.62,"y":3.38},{"p":8,"s":"2λ","x":-0.7,"y":2.46},{"p":8,"s":"2λ","x":-0.62,"y":1.61},{"p":8,"s":"2λ","x":-0.47,"y":0.94},
{"p":8,"s":"2λ","x":0,"y":0},{"p":8,"s":"2λ","x":-0.95,"y":0.45},{"p":8,"s":"2λ","x":-1.62,"y":0.59},{"p":8,"s":"2λ","x":-2.47,"y":0.66},{"p":8,"s":"2λ","x":-3.39,"y":0.56},{"p":8,"s":"2λ","x":-4.23,"y":0.3},{"p":8,"s":"2λ","x":-4.8,"y":-0.12},{"p":8,"s":"2λ","x":-4.96,"y":-0.61},{"p":8,"s":"2λ","x":-4.68,"y":-1.04},{"p":8,"s":"2λ","x":-4.03,"y":-1.31},{"p":8,"s":"2λ","x":-3.16,"y":-1.37},{"p":8,"s":"2λ","x":-2.24,"y":-1.23},{"p":8,"s":"2λ","x":-1.43,"y":-0.97},{"p":8,"s":"2λ","x":-0.81,"y":-0.67},
{"p":8,"s":"2λ","x":0,"y":0},{"p":8,"s":"2λ","x":-0.66,"y":-0.83},{"p":8,"s":"2λ","x":-0.94,"y":-1.44},{"p":8,"s":"2λ","x":-1.19,"y":-2.26},{"p":8,"s":"2λ","x":-1.31,"y":-3.18},{"p":8,"s":"2λ","x":-1.24,"y":-4.05},{"p":8,"s":"2λ","x":-0.96,"y":-4.7},{"p":8,"s":"2λ","x":-0.52,"y":-4.97},{"p":8,"s":"2λ","x":-0.04,"y":-4.8},{"p":8,"s":"2λ","x":0.37,"y":-4.22},{"p":8,"s":"2λ","x":0.62,"y":-3.38},{"p":8,"s":"2λ","x":0.7,"y":-2.46},{"p":8,"s":"2λ","x":0.62,"y":-1.61},{"p":8,"s":"2λ","x":0.47,"y":-0.94},
{"p":8,"s":"60°","x":-0.01,"y":0.05},{"p":8,"s":"60°","x":1.1,"y":-0.59},{"p":8,"s":"60°","x":2.38,"y":-0.59},{"p":8,"s":"60°","x":3.49,"y":0.05},{"p":8,"s":"60°","x":4.13,"y":1.16},{"p":8,"s":"60°","x":4.13,"y":2.44},{"p":8,"s":"60°","x":3.49,"y":3.55},{"p":8,"s":"60°","x":2.38,"y":4.19},{"p":8,"s":"60°","x":1.1,"y":4.19},{"p":8,"s":"60°","x":-0.01,"y":3.55},{"p":8,"s":"60°","x":-0.74,"y":2.44},{"p":8,"s":"60°","x":-0.76,"y":1.16},{"p":8,"s":"60°","x":0.01,"y":-0.05},{"p":8,"s":"60°","x":0.76,"y":-1.16},{"p":8,"s":"60°","x":0.74,"y":-2.44},{"p":8,"s":"60°","x":0.01,"y":-3.55},{"p":8,"s":"60°","x":-1.1,"y":-4.19},{"p":8,"s":"60°","x":-2.38,"y":-4.19},{"p":8,"s":"60°","x":-3.49,"y":-3.55},{"p":8,"s":"60°","x":-4.13,"y":-2.44},{"p":8,"s":"60°","x":-4.13,"y":-1.16},{"p":8,"s":"60°","x":-3.49,"y":-0.05},{"p":8,"s":"60°","x":-2.38,"y":0.59},{"p":8,"s":"60°","x":-1.1,"y":0.59},

{"p":9,"s":"48°","x":0,"y":0.03},{"p":9,"s":"48°","x":0.92,"y":0.3},{"p":9,"s":"48°","x":1.59,"y":0.97},{"p":9,"s":"48°","x":1.84,"y":1.89},{"p":9,"s":"48°","x":1.59,"y":2.81},{"p":9,"s":"48°","x":0.92,"y":3.48},{"p":9,"s":"48°","x":0,"y":3.73},{"p":9,"s":"48°","x":-0.92,"y":3.48},{"p":9,"s":"48°","x":-1.59,"y":2.81},{"p":9,"s":"48°","x":-1.84,"y":1.89},{"p":9,"s":"48°","x":-1.59,"y":0.97},{"p":9,"s":"48°","x":-0.92,"y":0.3},{"p":9,"s":"48°","x":0,"y":0.03},{"p":9,"s":"48°","x":1,"y":-0.24},{"p":9,"s":"48°","x":1.73,"y":-0.94},{"p":9,"s":"48°","x":2,"y":-1.9},{"p":9,"s":"48°","x":1.73,"y":-2.86},{"p":9,"s":"48°","x":1,"y":-3.56},{"p":9,"s":"48°","x":0,"y":-3.82},{"p":9,"s":"48°","x":-1,"y":-3.56},{"p":9,"s":"48°","x":-1.73,"y":-2.86},{"p":9,"s":"48°","x":-2,"y":-1.9},{"p":9,"s":"48°","x":-1.73,"y":-0.94},{"p":9,"s":"48°","x":-1,"y":-0.24},
{"p":9,"s":"2λ","x":0,"y":0},{"p":9,"s":"2λ","x":0.96,"y":0.39},{"p":9,"s":"2λ","x":1.52,"y":0.78},{"p":9,"s":"2λ","x":2.16,"y":1.35},{"p":9,"s":"2λ","x":2.76,"y":2.08},{"p":9,"s":"2λ","x":3.17,"y":2.85},{"p":9,"s":"2λ","x":3.3,"y":3.54},{"p":9,"s":"2λ","x":3.11,"y":3.98},{"p":9,"s":"2λ","x":2.64,"y":4.06},{"p":9,"s":"2λ","x":2,"y":3.77},{"p":9,"s":"2λ","x":1.35,"y":3.18},{"p":9,"s":"2λ","x":0.79,"y":2.42},{"p":9,"s":"2λ","x":0.39,"y":1.67},{"p":9,"s":"2λ","x":0.14,"y":1.03},
{"p":9,"s":"2λ","x":0,"y":0},{"p":9,"s":"2λ","x":-0.14,"y":1.03},{"p":9,"s":"2λ","x":-0.39,"y":1.67},{"p":9,"s":"2λ","x":-0.79,"y":2.42},{"p":9,"s":"2λ","x":-1.35,"y":3.18},{"p":9,"s":"2λ","x":-2,"y":3.77},{"p":9,"s":"2λ","x":-2.64,"y":4.06},{"p":9,"s":"2λ","x":-3.11,"y":3.98},{"p":9,"s":"2λ","x":-3.3,"y":3.54},{"p":9,"s":"2λ","x":-3.17,"y":2.85},{"p":9,"s":"2λ","x":-2.76,"y":2.08},{"p":9,"s":"2λ","x":-2.16,"y":1.35},{"p":9,"s":"2λ","x":-1.52,"y":0.78},{"p":9,"s":"2λ","x":-0.96,"y":0.39},
{"p":9,"s":"2λ","x":0,"y":0},{"p":9,"s":"2λ","x":-0.96,"y":-0.39},{"p":9,"s":"2λ","x":-1.52,"y":-0.78},{"p":9,"s":"2λ","x":-2.16,"y":-1.35},{"p":9,"s":"2λ","x":-2.76,"y":-2.08},{"p":9,"s":"2λ","x":-3.17,"y":-2.85},{"p":9,"s":"2λ","x":-3.3,"y":-3.54},{"p":9,"s":"2λ","x":-3.11,"y":-3.98},{"p":9,"s":"2λ","x":-2.64,"y":-4.06},{"p":9,"s":"2λ","x":-2,"y":-3.77},{"p":9,"s":"2λ","x":-1.35,"y":-3.18},{"p":9,"s":"2λ","x":-0.79,"y":-2.42},{"p":9,"s":"2λ","x":-0.39,"y":-1.67},{"p":9,"s":"2λ","x":-0.14,"y":-1.03},
{"p":9,"s":"2λ","x":0,"y":0},{"p":9,"s":"2λ","x":0.14,"y":-1.03},{"p":9,"s":"2λ","x":0.39,"y":-1.67},{"p":9,"s":"2λ","x":0.79,"y":-2.42},{"p":9,"s":"2λ","x":1.35,"y":-3.18},{"p":9,"s":"2λ","x":2,"y":-3.77},{"p":9,"s":"2λ","x":2.64,"y":-4.06},{"p":9,"s":"2λ","x":3.11,"y":-3.98},{"p":9,"s":"2λ","x":3.3,"y":-3.54},{"p":9,"s":"2λ","x":3.17,"y":-2.85},{"p":9,"s":"2λ","x":2.76,"y":-2.08},{"p":9,"s":"2λ","x":2.16,"y":-1.35},{"p":9,"s":"2λ","x":1.52,"y":-0.78},{"p":9,"s":"2λ","x":0.96,"y":-0.39},
{"p":9,"s":"60°","x":0,"y":3.82},{"p":9,"s":"60°","x":0.87,"y":3.66},{"p":9,"s":"60°","x":1.54,"y":3.12},{"p":9,"s":"60°","x":1.81,"y":2.3},{"p":9,"s":"60°","x":1.8,"y":1.54},{"p":9,"s":"60°","x":1.56,"y":0.93},{"p":9,"s":"60°","x":1.35,"y":0.4},{"p":9,"s":"60°","x":1.31,"y":0},{"p":9,"s":"60°","x":1.48,"y":-0.4},{"p":9,"s":"60°","x":1.78,"y":-1.01},{"p":9,"s":"60°","x":1.87,"y":-1.85},{"p":9,"s":"60°","x":1.66,"y":-2.82},{"p":9,"s":"60°","x":0.99,"y":-3.55},{"p":9,"s":"60°","x":0,"y":-3.79},{"p":9,"s":"60°","x":-0.99,"y":-3.55},{"p":9,"s":"60°","x":-1.66,"y":-2.82},{"p":9,"s":"60°","x":-1.87,"y":-1.85},{"p":9,"s":"60°","x":-1.78,"y":-1.01},{"p":9,"s":"60°","x":-1.48,"y":-0.4},{"p":9,"s":"60°","x":-1.31,"y":0},{"p":9,"s":"60°","x":-1.35,"y":0.4},{"p":9,"s":"60°","x":-1.56,"y":0.93},{"p":9,"s":"60°","x":-1.8,"y":1.54},{"p":9,"s":"60°","x":-1.81,"y":2.3},{"p":9,"s":"60°","x":-1.54,"y":3.12},{"p":9,"s":"60°","x":-0.87,"y":3.66}
]},
"facet": {"field": "p", "type": "ordinal", "header": {"title": null, "labels": false, "labelExpr": "''", "labelFontSize": 1, "labelPadding": 0}},
"columns": 3,
"spacing": {"row": 92.8, "column": 10},
"spec": {
  "width": 302.5,
  "height": 302.5,
  "encoding": {
    "x": {"field": "x", "type": "quantitative", "scale": {"domain": [-5.5, 5.5], "nice": false, "zero": false}, "axis": null},
    "y": {"field": "y", "type": "quantitative", "scale": {"domain": [-5.5, 5.5], "nice": false, "zero": false}, "axis": null}
  },
  "layer": [
    {"transform": [{"filter": "datum.k === 'ring'"}],
     "mark": {"type": "point", "shape": "circle", "filled": false, "color": "#808080", "strokeWidth": 0.9, "opacity": 1},
     "encoding": {"size": {"field": "r", "type": "quantitative", "scale": {"type": "pow", "exponent": 2, "domain": [0, 5], "range": [0, 75625], "zero": true}, "legend": null}}},
    {"transform": [{"filter": "datum.k === 'grid'"}],
     "mark": {"type": "rule", "stroke": "#808080", "strokeWidth": 0.9},
     "encoding": {"x2": {"field": "x2"}, "y2": {"field": "y2"}}},
    {"transform": [{"filter": "isValid(datum.s)"}],
     "mark": {"type": "line", "interpolate": "cardinal-closed", "color": "black", "strokeWidth": 1.5},
     "encoding": {
       "order": {"value": null},
       "strokeDash": {"field": "s", "type": "nominal",
         "scale": {"domain": ["48°", "2λ", "60°"], "range": [[1, 0], [6, 4], [1.5, 1.8]]},
         "legend": {"orient": "none", "legendX": 323, "legendY": -70, "direction": "horizontal", "title": null,
           "symbolType": "stroke", "symbolSize": 576, "symbolStrokeWidth": 1.5, "symbolStrokeColor": "black",
           "labelFont": "DejaVu Sans Mono", "labelFontSize": 19, "labelColor": "black", "labelOffset": 9, "columnPadding": 37}}}},
    {"transform": [{"filter": "datum.k === 'axis'"}],
     "mark": {"type": "rule", "color": "black", "strokeWidth": 1.8},
     "encoding": {"x2": {"field": "x2"}, "y2": {"field": "y2"}}},
    {"transform": [{"filter": "datum.k === 'arrow'"}],
     "mark": {"type": "point", "shape": "M0,-1L-0.8,1L0.8,1Z", "filled": true, "color": "black", "opacity": 1, "size": 177},
     "encoding": {"angle": {"field": "dir", "type": "quantitative", "scale": {"domain": [0, 360], "range": [90, -270]}}}},
    {"transform": [{"filter": "datum.k === 'label'"}],
     "mark": {"type": "text", "font": "DejaVu Sans Mono", "fontSize": 19, "color": "black", "align": "center", "baseline": "middle"},
     "encoding": {"text": {"field": "t"}}}
  ]
},
"config": {"view": {"stroke": null}, "font": "DejaVu Sans Mono", "header": {"labels": false, "title": null}}
}
